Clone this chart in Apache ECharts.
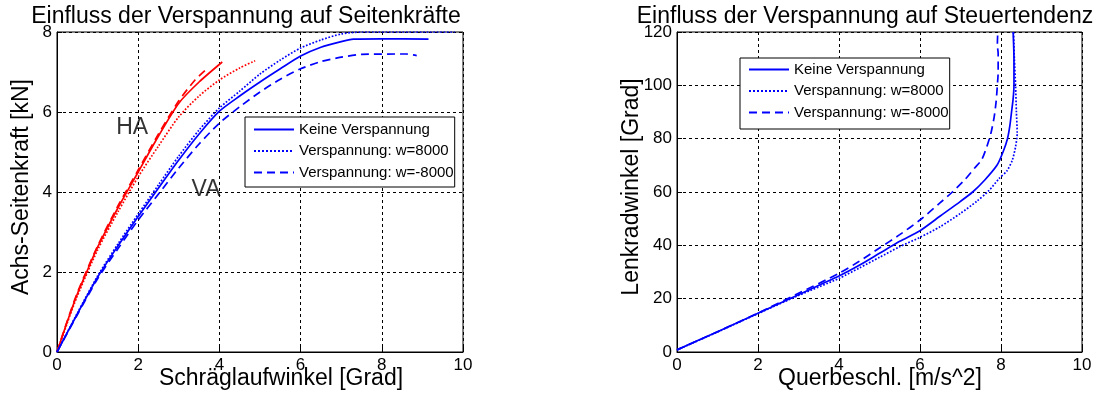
<!DOCTYPE html>
<html>
<head>
<meta charset="utf-8">
<script src="https://cdn.jsdelivr.net/npm/echarts@6/dist/echarts.min.js"></script>
<style>html,body{margin:0;padding:0;background:#fff;}#c{width:1102px;height:396px;}</style>
</head>
<body>
<div id="c"></div>
<script>
// ---------- DATA ----------
const legendNames = ['Keine Verspannung', 'Verspannung: w=8000', 'Verspannung: w=-8000'];
const leftXTicks = [0, 2, 4, 6, 8, 10];
const leftYTicks = [0, 2, 4, 6, 8];
const rightXTicks = [0, 2, 4, 6, 8, 10];
const rightYTicks = [0, 20, 40, 60, 80, 100, 120];
const titleLeft = 'Einfluss der Verspannung auf Seitenkräfte';
const titleRight = 'Einfluss der Verspannung auf Steuertendenz';
const xNameLeft = 'Schräglaufwinkel [Grad]';
const yNameLeft = 'Achs-Seitenkraft [kN]';
const xNameRight = 'Querbeschl. [m/s^2]';
const yNameRight = 'Lenkradwinkel [Grad]';
const annotLabels = ['HA', 'VA'];
const annotPos = [[1.85, 5.6], [3.67, 4.05]];

// Left: HA (rear axle), red
const haKeine = [[0,0],[0.25,0.75],[0.5,1.45],[0.73,2],[1,2.62],[1.5,3.6],[2,4.5],[2.5,5.4],[3,6.22],[3.5,6.75],[4.07,7.25]];
const haPlus = [[0,0],[0.25,0.72],[0.5,1.4],[1,2.55],[1.5,3.5],[2,4.38],[2.5,5.15],[3,5.88],[3.5,6.4],[4,6.8],[4.5,7.1],[4.88,7.28]];
const haMinus = [[0,0],[0.25,0.77],[0.5,1.48],[1,2.65],[1.5,3.65],[2,4.55],[2.5,5.45],[3,6.28],[3.4,6.8],[3.68,7.07]];
// Left: VA (front axle), blue
const vaKeine = [[0,0],[0.5,0.95],[1,1.87],[1.5,2.65],[2,3.39],[2.5,4.1],[3,4.8],[3.5,5.45],[4,6.02],[4.5,6.4],[5,6.75],[5.5,7.08],[6,7.4],[6.5,7.62],[7,7.76],[7.3,7.82],[8,7.83],[9.15,7.82]];
const vaPlus = [[0,0],[0.5,0.97],[1,1.9],[1.5,2.7],[2,3.45],[2.5,4.18],[3,4.9],[3.5,5.55],[4,6.1],[4.5,6.52],[5,6.95],[5.5,7.3],[6,7.6],[6.5,7.8],[7,7.95],[7.5,8.0],[9.8,8.0]];
const vaMinus = [[0,0],[0.5,0.93],[1,1.83],[1.5,2.58],[2,3.3],[2.5,3.95],[3,4.6],[3.5,5.2],[4,5.72],[4.5,6.13],[5,6.5],[5.5,6.82],[6,7.08],[6.5,7.26],[7,7.37],[7.5,7.44],[8.6,7.45],[8.86,7.41]];
// Right: steering angle vs lateral acceleration
const stKeine = [[0,0.8],[1,7.6],[2,14.5],[3,21.5],[4,28.5],[4.5,32.5],[5,37],[5.5,41.5],[6,45.5],[6.5,51],[7,56.5],[7.3,60],[7.6,64.5],[7.9,70],[8.05,75],[8.16,80],[8.22,85],[8.26,90],[8.3,95],[8.32,100],[8.32,110],[8.3,120]];
const stPlus = [[0,0.8],[1,7.5],[2,14.4],[3,21.2],[4,27.6],[4.5,31.5],[5,35.5],[5.5,39.5],[6,43],[6.5,47],[7,52],[7.4,56.5],[7.7,60.5],[7.95,65],[8.15,68],[8.28,72],[8.36,77],[8.4,82],[8.38,90],[8.36,100],[8.33,110],[8.31,120]];
const stMinus = [[0,0.8],[1,7.6],[2,14.6],[3,22],[4,29.5],[4.5,34],[5,39],[5.5,44],[6,49.5],[6.5,56],[6.8,60],[7.1,64.5],[7.35,69],[7.52,72],[7.65,77],[7.75,82],[7.83,88],[7.88,94],[7.91,100],[7.93,105],[7.93,112],[7.91,115],[7.92,120]];

// ---------- CHART ----------
const FONT = 'Liberation Sans, Arial, Helvetica, sans-serif';
const BLUE = '#0000ff', RED = '#ff0000';
const chart = echarts.init(document.getElementById('c'), null, {renderer: 'canvas'});

function mkAxis(idx, ticks) {
  return {
    type: 'value', gridIndex: idx, min: ticks[0], max: ticks[ticks.length - 1], interval: ticks[1] - ticks[0],
    axisLine: {show: true, lineStyle: {color: '#000', width: 1}},
    axisTick: {show: true, inside: true, length: 5, lineStyle: {color: '#000'}},
    axisLabel: {color: '#000', fontSize: 17, fontFamily: FONT, margin: 5},
    splitLine: {show: true, lineStyle: {color: '#000', type: [3, 3], width: 1}}
  };
}
const styles = [
  {type: 'solid'},
  {type: 'dotted'},
  {type: [8, 5]}
];
function ln(name, data, idx, color, st) {
  return {
    name: name, type: 'line', xAxisIndex: idx, yAxisIndex: idx, data: data,
    symbol: 'none', smooth: 0.25, silent: true, animation: false,
    lineStyle: {color: color, width: 1.7, type: st.type},
    itemStyle: {color: color}
  };
}
const legendCommon = {
  orient: 'vertical', itemWidth: 40, itemHeight: 14, itemGap: 6.5, selectedMode: false,
  borderColor: '#000', borderWidth: 1, backgroundColor: '#fff',
  itemStyle: {color: 'rgba(0,0,0,0)', borderColor: 'rgba(0,0,0,0)', borderWidth: 0, opacity: 0},
  textStyle: {color: '#000', fontSize: 15, fontFamily: FONT, lineHeight: 14},
  data: legendNames
};
const txt = (t, x, y, rot) => ({
  type: 'text', x: x, y: y, rotation: rot || 0,
  style: {text: t, fill: '#000', font: '23px ' + FONT, textAlign: 'center', textVerticalAlign: 'middle'}
});

const option = {
  backgroundColor: '#fff',
  animation: false,
  grid: [
    {left: 57, top: 32, width: 406, height: 320, show: true, borderColor: '#000', borderWidth: 1, backgroundColor: '#fff'},
    {left: 677, top: 32, width: 405, height: 320, show: true, borderColor: '#000', borderWidth: 1, backgroundColor: '#fff'}
  ],
  xAxis: [mkAxis(0, leftXTicks), mkAxis(1, rightXTicks)],
  yAxis: [mkAxis(0, leftYTicks), mkAxis(1, rightYTicks)],
  legend: [
    Object.assign({left: 245, top: 117, padding: [5, 1, 7, 8]}, legendCommon),
    Object.assign({left: 740, top: 58, padding: [4, 1, 9, 8]}, legendCommon)
  ],
  graphic: [
    txt(titleLeft, 246, 17),
    txt(titleRight, 865, 17),
    txt(xNameLeft, 281, 379),
    txt(xNameRight, 880, 379),
    txt(yNameLeft, 22, 187, Math.PI / 2),
    txt(yNameRight, 632, 187, Math.PI / 2)
  ],
  series: [
    ln('HA ' + legendNames[0], haKeine, 0, RED, styles[0]),
    ln('HA ' + legendNames[1], haPlus, 0, RED, styles[1]),
    ln('HA ' + legendNames[2], haMinus, 0, RED, styles[2]),
    ln(legendNames[0], vaKeine, 0, BLUE, styles[0]),
    ln(legendNames[1], vaPlus, 0, BLUE, styles[1]),
    ln(legendNames[2], vaMinus, 0, BLUE, styles[2]),
    ln(legendNames[0], stKeine, 1, BLUE, styles[0]),
    ln(legendNames[1], stPlus, 1, BLUE, styles[1]),
    ln(legendNames[2], stMinus, 1, BLUE, styles[2]),
    {
      name: 'annot', type: 'scatter', xAxisIndex: 0, yAxisIndex: 0, symbolSize: 0, silent: true,
      data: annotPos.map((p, i) => ({value: p, name: annotLabels[i]})),
      label: {show: true, position: 'inside', formatter: '{b}', color: '#000', fontSize: 23, fontFamily: FONT}
    }
  ]
};
chart.setOption(option);
</script>
</body>
</html>
